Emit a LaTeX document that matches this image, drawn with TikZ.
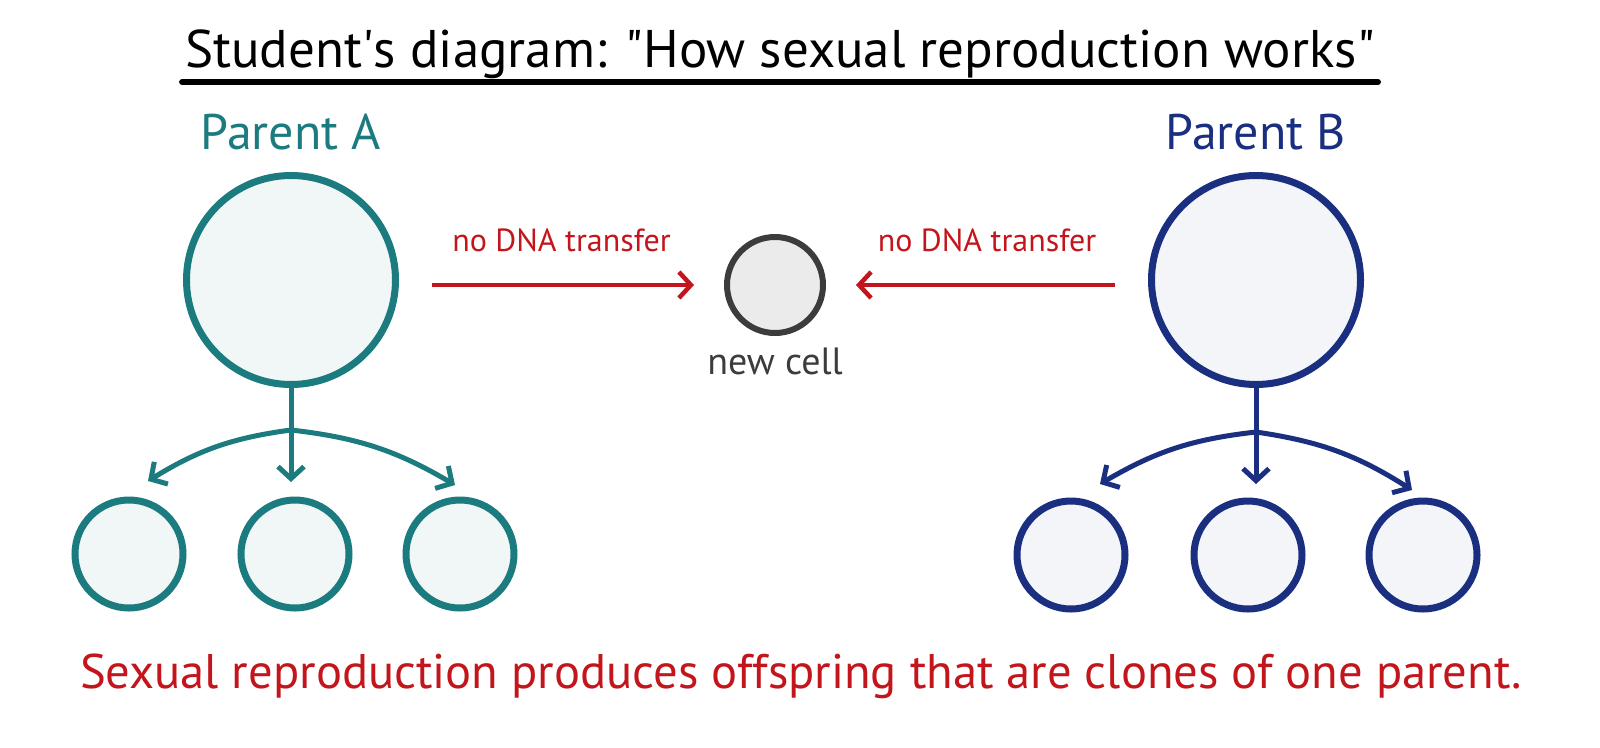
\documentclass[tikz,border=0pt]{standalone}
\usepackage{fontspec}
\setmainfont{PT Sans}
\usetikzlibrary{arrows.meta,positioning}

\definecolor{tealA}{HTML}{1B7B7E}
\definecolor{navyB}{HTML}{1A2F80}
\definecolor{redtx}{HTML}{C3161C}
\definecolor{cellgray}{HTML}{3C3C3C}

\tikzset{
  cell/.style={circle, draw, line width=7pt, inner sep=0pt},
  bigcell/.style={cell, minimum size=209pt},
  kidcell/.style={cell, minimum size=108pt},
  tip/.style={-{Straight Barb[length=12pt,width=26pt]}},
  redarrow/.style={tip, redtx, line width=4.5pt, shorten <=33pt, shorten >=30pt},
  branch/.style={tip, line width=5pt},
  lbl/.style={inner sep=0pt}
}

\begin{document}
\begin{tikzpicture}[x=1pt,y=-1pt]
  \useasboundingbox (0,0) rectangle (1600,747);

  % title
  \node[lbl, anchor=base] (title) at (780,67)
    {\fontsize{53}{60}\selectfont Student\textquotesingle s diagram: \textquotedbl How sexual reproduction works\textquotedbl};
  \draw[line width=6pt, line cap=round] ([shift={(-3,15)}]title.base west) -- ([shift={(3,15)}]title.base east);

  % parents and the new cell
  \node[bigcell, tealA, fill=tealA!6] (parentA) at (291,280) {};
  \node[bigcell, navyB, fill=navyB!5] (parentB) at (1256,280) {};
  \node[cell, cellgray, fill=cellgray!10, line width=6pt, minimum size=96pt] (newcell) at (775,285) {};

  \node[lbl, tealA, above=22pt of parentA] (labelA) {\fontsize{50}{56}\selectfont Parent A};
  \node[lbl, navyB, above=22pt of parentB] (labelB) {\fontsize{50}{56}\selectfont Parent B};
  \node[lbl, cellgray, below=12pt of newcell] (labelC) {\fontsize{38}{44}\selectfont new cell};

  % the two arrows into the new cell
  \draw[redarrow] (parentA.east |- newcell) -- (newcell)
    node[midway, above=31pt, lbl] {\fontsize{32}{36}\selectfont no DNA transfer};
  \draw[redarrow] (parentB.west |- newcell) -- (newcell)
    node[midway, above=31pt, lbl] {\fontsize{32}{36}\selectfont no DNA transfer};

  % offspring
  \foreach \i/\x in {1/129,2/295,3/460}
    \node[kidcell, tealA, fill=tealA!6] (childA\i) at (\x,554) {};
  \foreach \i/\x in {1/1071,2/1248,3/1423}
    \node[kidcell, navyB, fill=navyB!5] (childB\i) at (\x,555) {};

  \coordinate (splitA) at (291,430);
  \coordinate (tipA1) at (148,481);
  \coordinate (tipA2) at (291,482);
  \coordinate (tipA3) at (455,485);
  \coordinate (splitB) at (1256,432);
  \coordinate (tipB1) at (1100,484);
  \coordinate (tipB2) at (1256,484);
  \coordinate (tipB3) at (1412,490);

  \draw[tealA, line width=5pt] (parentA.south) -- (splitA);
  \draw[branch, tealA] (splitA) -- (tipA2);
  \draw[branch, tealA] (splitA) to[bend right=12] (tipA1);
  \draw[branch, tealA] (splitA) to[bend left=12] (tipA3);

  \draw[navyB, line width=5pt] (parentB.south) -- (splitB);
  \draw[branch, navyB] (splitB) -- (tipB2);
  \draw[branch, navyB] (splitB) to[bend right=12] (tipB1);
  \draw[branch, navyB] (splitB) to[bend left=12] (tipB3);

  % bottom line
  \node[lbl, redtx] (claim) at (801,676)
    {\fontsize{48.6}{56}\selectfont Sexual reproduction produces offspring that are clones of one parent.};
\end{tikzpicture}
\end{document}
